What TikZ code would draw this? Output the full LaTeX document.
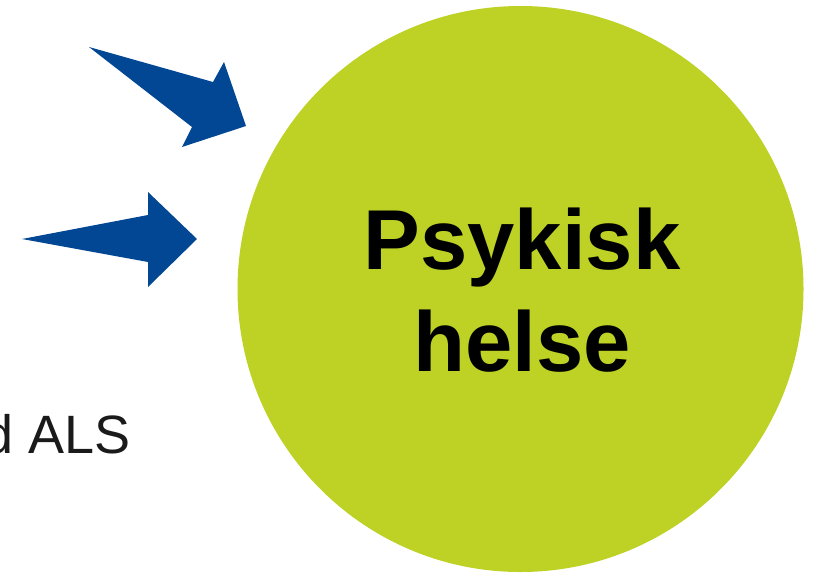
\documentclass[tikz,border=0pt]{standalone}
\usepackage{fontspec}
\setmainfont{Liberation Sans}
\definecolor{arrowblue}{RGB}{2,71,148}
\definecolor{limegreen}{RGB}{189,210,36}
\definecolor{textgray}{RGB}{26,26,26}
\begin{document}
\begin{tikzpicture}[x=1pt,y=-1pt,
  bluearrow/.style={fill=arrowblue,draw=none},
  bigcircle/.style={circle,fill=limegreen,draw=none,minimum size=566pt,inner sep=0pt},
  bigtext/.style={font=\fontsize{85}{102}\selectfont\bfseries,align=center,text=black,inner sep=0pt},
  sidetext/.style={font=\fontsize{54}{65}\selectfont,text=textgray,inner sep=0pt}]
\useasboundingbox (0,0) rectangle (813,573);
\node[bigcircle] (psyk) at (520.5,289) {};
\node[bigtext] (psyklabel) at ([xshift=1.5pt,yshift=-1pt]psyk.center) {Psykisk\\helse};
\fill[bluearrow] (89,47) -- (213,82) -- (224,62) -- (246,126) -- (182,147) -- (192,127) -- cycle;
\fill[bluearrow] (22,239) -- (148,215) -- (148,192) -- (197,239) -- (148,287) -- (148,262) -- cycle;
\node[sidetext,anchor=base east] (als) at (131,453) {d ALS};
\end{tikzpicture}
\end{document}
